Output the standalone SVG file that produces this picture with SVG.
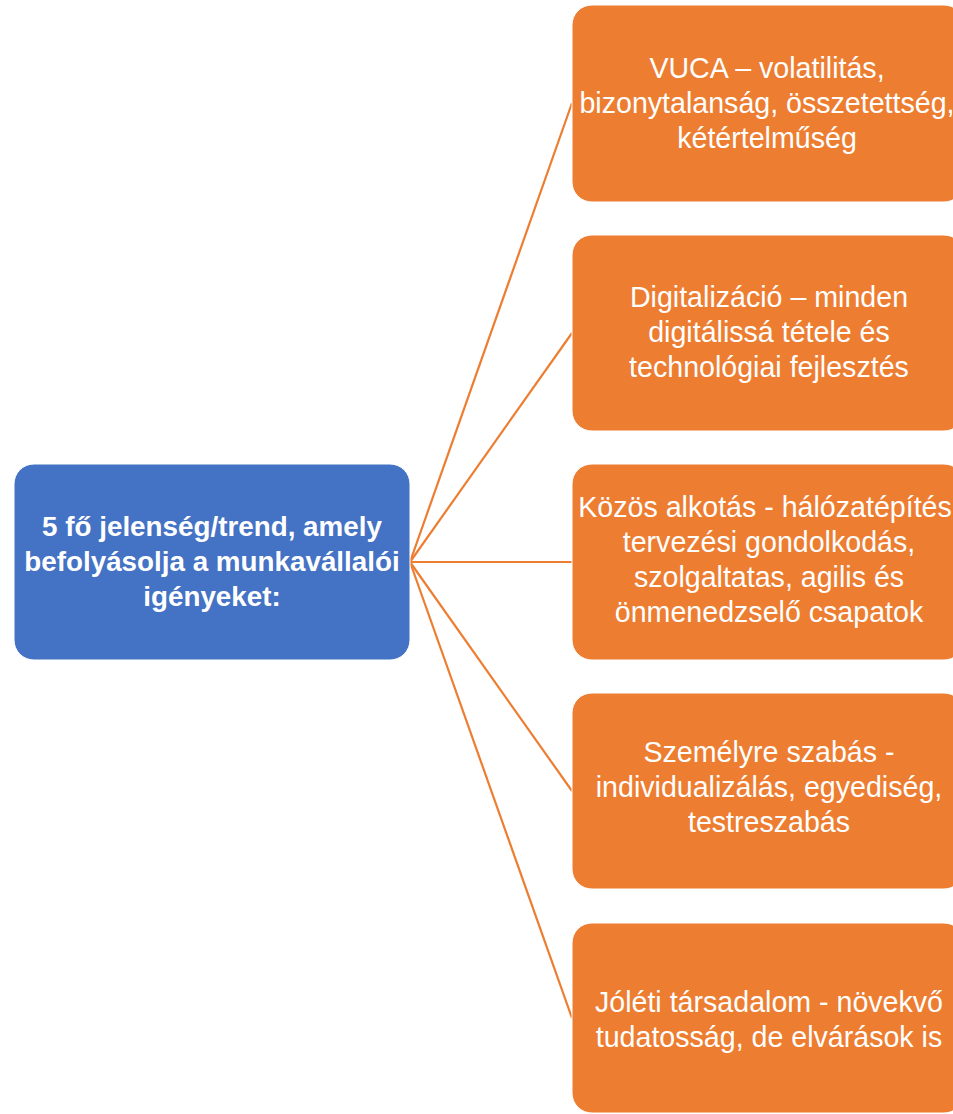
<svg xmlns="http://www.w3.org/2000/svg" width="953" height="1114" viewBox="0 0 953 1114">
<style>
.conn{stroke:#ED7D31;stroke-width:2.2;fill:none}
.blue{fill:#4472C4;stroke:#ffffff;stroke-width:1}
.orange{fill:#ED7D31;stroke:#ffffff;stroke-width:1}
.t{font-family:"Liberation Sans",Arial,sans-serif;fill:#ffffff;text-anchor:middle;font-size:28.6px}
.tb{font-family:"Liberation Sans",Arial,sans-serif;fill:#ffffff;text-anchor:middle;font-size:27.8px;font-weight:bold}
</style>
<rect width="953" height="1114" fill="#ffffff"/>
<g id="connectors">
<line class="conn" x1="410" y1="562" x2="572" y2="103"/>
<line class="conn" x1="410" y1="562" x2="572" y2="333"/>
<line class="conn" x1="410" y1="562" x2="572" y2="562"/>
<line class="conn" x1="410" y1="562" x2="572" y2="791"/>
<line class="conn" x1="410" y1="562" x2="572" y2="1018"/>
</g>
<g id="root">
<rect class="blue" x="14" y="464" width="396" height="196" rx="20"/>
<text class="tb" x="212" y="536">5 fő jelenség/trend, amely</text>
<text class="tb" x="212" y="571">befolyásolja a munkavállalói</text>
<text class="tb" x="212" y="606">igényeket:</text>
</g>
<g id="n1">
<rect class="orange" x="572" y="5" width="392" height="197" rx="20"/>
<text class="t" x="767" y="78">VUCA – volatilitás,</text>
<text class="t" x="767" y="113">bizonytalanság, összetettség,</text>
<text class="t" x="767" y="148">kétértelműség</text>
</g>
<g id="n2">
<rect class="orange" x="572" y="235" width="392" height="196" rx="20"/>
<text class="t" x="769" y="307">Digitalizáció – minden</text>
<text class="t" x="769" y="342">digitálissá tétele és</text>
<text class="t" x="769" y="377">technológiai fejlesztés</text>
</g>
<g id="n3">
<rect class="orange" x="572" y="464" width="392" height="196" rx="20"/>
<text class="t" x="769" y="517">Közös alkotás - hálózatépítés,</text>
<text class="t" x="769" y="552">tervezési gondolkodás,</text>
<text class="t" x="769" y="587">szolgaltatas, agilis és</text>
<text class="t" x="769" y="622">önmenedzselő csapatok</text>
</g>
<g id="n4">
<rect class="orange" x="572" y="693" width="392" height="196" rx="20"/>
<text class="t" x="769" y="762">Személyre szabás -</text>
<text class="t" x="769" y="797">individualizálás, egyediség,</text>
<text class="t" x="769" y="832">testreszabás</text>
</g>
<g id="n5">
<rect class="orange" x="572" y="923" width="392" height="190" rx="20"/>
<text class="t" x="769" y="1012">Jóléti társadalom - növekvő</text>
<text class="t" x="769" y="1047">tudatosság, de elvárások is</text>
</g>
</svg>
